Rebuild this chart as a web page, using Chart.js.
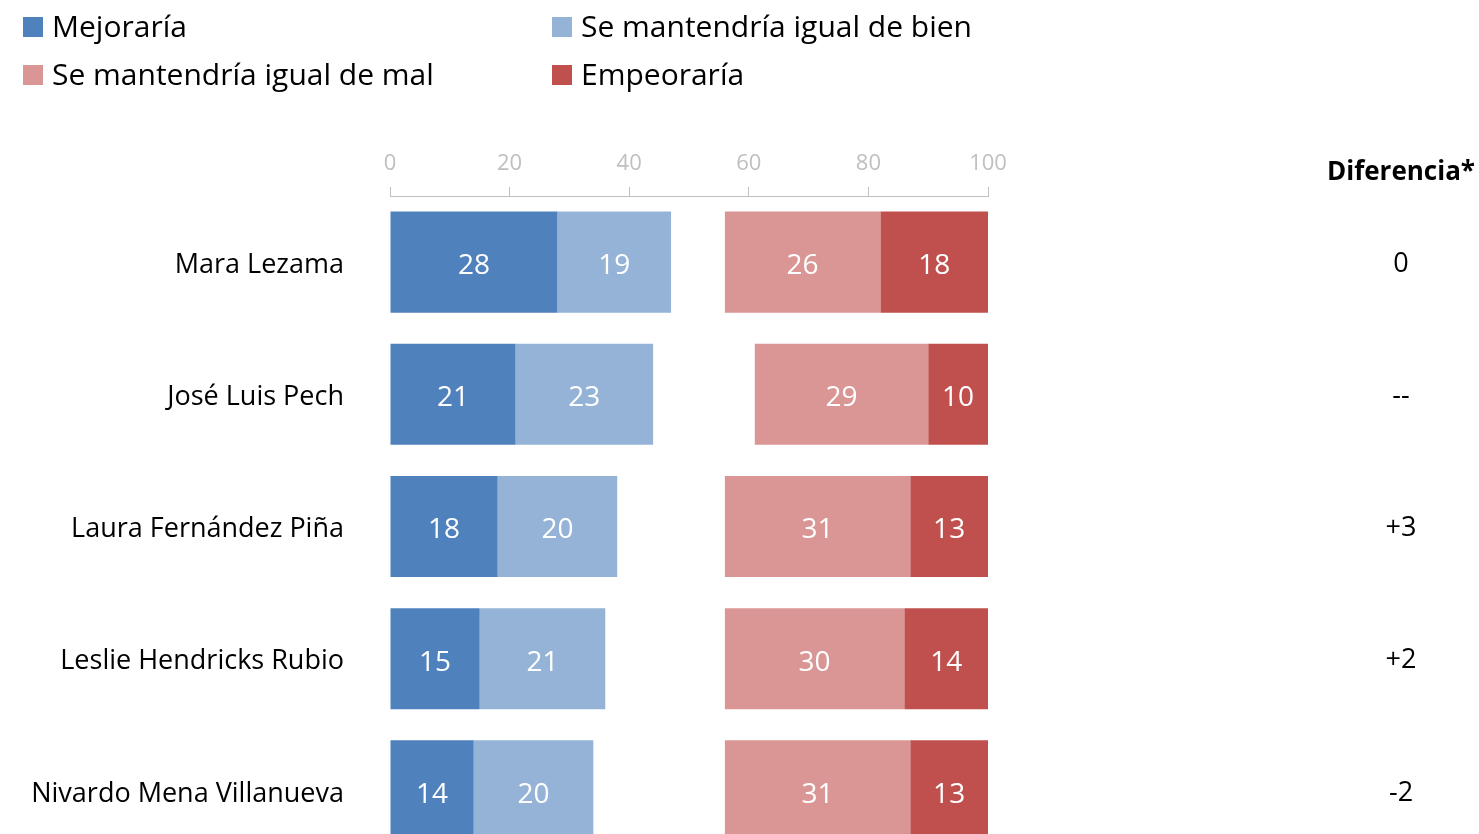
<!DOCTYPE html>
<html>
<head>
<meta charset="utf-8">
<script src="https://cdn.jsdelivr.net/npm/chart.js@4.4.1/dist/chart.umd.min.js"></script>
<style>
  html, body { margin: 0; padding: 0; background: #fff; overflow: hidden; }
  #wrap { width: 1479px; height: 834px; overflow: hidden; position: relative; }
  canvas { display: block; }
</style>
</head>
<body>
<div id="wrap"><canvas id="c" width="1479" height="860"></canvas></div>
<script>
const categories = ['Mara Lezama', 'José Luis Pech', 'Laura Fernández Piña', 'Leslie Hendricks Rubio', 'Nivardo Mena Villanueva'];
const mejoraria = [28, 21, 18, 15, 14];
const igualBien = [19, 23, 20, 21, 20];
const igualMal = [26, 29, 31, 30, 31];
const empeoraria = [18, 10, 13, 14, 13];
const diferencia = ['0', '--', '+3', '+2', '-2'];
const xTicks = [0, 20, 40, 60, 80, 100];
const seriesNames = ['Mejoraría', 'Se mantendría igual de bien', 'Se mantendría igual de mal', 'Empeoraría'];
const diffTitle = 'Diferencia*';

// invisible spacer so the "mal/empeoraría" side is right-aligned at 100
const spacer = categories.map((_, i) => 100 - (mejoraria[i] + igualBien[i] + igualMal[i] + empeoraria[i]));

const FONT = "'Open Sans', 'Noto Sans', sans-serif";
const colors = ['#4f81bd', '#95b3d7', '#d99694', '#c0504d'];

const datasets = [
  { label: seriesNames[0], data: mejoraria, backgroundColor: colors[0] },
  { label: seriesNames[1], data: igualBien, backgroundColor: colors[1] },
  { label: '', data: spacer, backgroundColor: 'rgba(0,0,0,0)', isSpacer: true },
  { label: seriesNames[2], data: igualMal, backgroundColor: colors[2] },
  { label: seriesNames[3], data: empeoraria, backgroundColor: colors[3] }
];

const labelPlugin = {
  id: 'barLabels',
  afterDatasetsDraw(chart) {
    const ctx = chart.ctx;
    ctx.save();
    ctx.font = '28px ' + FONT;
    ctx.fillStyle = '#ffffff';
    ctx.textAlign = 'center';
    ctx.textBaseline = 'middle';
    chart.data.datasets.forEach((ds, di) => {
      if (ds.isSpacer) return;
      const meta = chart.getDatasetMeta(di);
      meta.data.forEach((el, i) => {
        const p = el.getCenterPoint();
        ctx.fillText(String(ds.data[i]), p.x, p.y + 4);
      });
    });
    ctx.restore();
  }
};

const diffPlugin = {
  id: 'diffColumn',
  afterDraw(chart) {
    const ctx = chart.ctx;
    const ys = chart.scales.y;
    const cx = 1401;
    ctx.save();
    ctx.textAlign = 'center';
    ctx.textBaseline = 'middle';
    ctx.fillStyle = '#000000';
    ctx.font = 'bold 26px ' + FONT;
    ctx.fillText(diffTitle, cx, 173);
    ctx.font = '27px ' + FONT;
    diferencia.forEach((d, i) => {
      ctx.fillText(d, cx, ys.getPixelForValue(i) + 2);
    });
    ctx.restore();
  }
};

const legendPlugin = {
  id: 'gridLegend',
  afterDraw(chart) {
    const ctx = chart.ctx;
    const items = chart.data.datasets.filter(d => !d.isSpacer);
    const colX = [23, 552];
    const rowY = [27, 75];
    ctx.save();
    ctx.font = '30px ' + FONT;
    ctx.textBaseline = 'middle';
    ctx.textAlign = 'left';
    items.forEach((ds, k) => {
      const x = colX[k % 2];
      const y = rowY[Math.floor(k / 2)];
      ctx.fillStyle = ds.backgroundColor;
      ctx.fillRect(x, y - 10, 20, 20);
      ctx.fillStyle = '#000000';
      ctx.fillText(ds.label, x + 29, y + 1);
    });
    ctx.restore();
  }
};

new Chart(document.getElementById('c'), {
  type: 'bar',
  data: { labels: categories, datasets },
  plugins: [labelPlugin, diffPlugin, legendPlugin],
  options: {
    indexAxis: 'y',
    responsive: false,
    animation: false,
    devicePixelRatio: 1,
    layout: { padding: { top: 110, right: 491, bottom: 3, left: 0 } },
    datasets: { bar: { categoryPercentage: 1, barPercentage: 0.765, borderWidth: 0 } },
    plugins: { legend: { display: false }, tooltip: { enabled: false } },
    scales: {
      x: {
        position: 'top',
        stacked: true,
        min: 0,
        max: 100,
        afterBuildTicks: (s) => { s.ticks = xTicks.map(v => ({ value: v })); },
        afterFit: (s) => { s.height = 86; },
        grid: { drawOnChartArea: false, drawTicks: true, tickLength: 9, color: '#bfbfbf', lineWidth: 1 },
        border: { display: true, color: '#bfbfbf', width: 1 },
        ticks: { color: '#bfbfbf', font: { family: FONT, size: 22 }, padding: 10 }
      },
      y: {
        stacked: true,
        afterFit: (s) => { s.width = 390; s.paddingTop = 0; s.paddingBottom = 0; },
        grid: { display: false, drawTicks: false },
        border: { display: false },
        ticks: { color: '#000000', font: { family: FONT, size: 27 }, padding: 46, labelOffset: 3 }
      }
    }
  }
});
</script>
</body>
</html>
